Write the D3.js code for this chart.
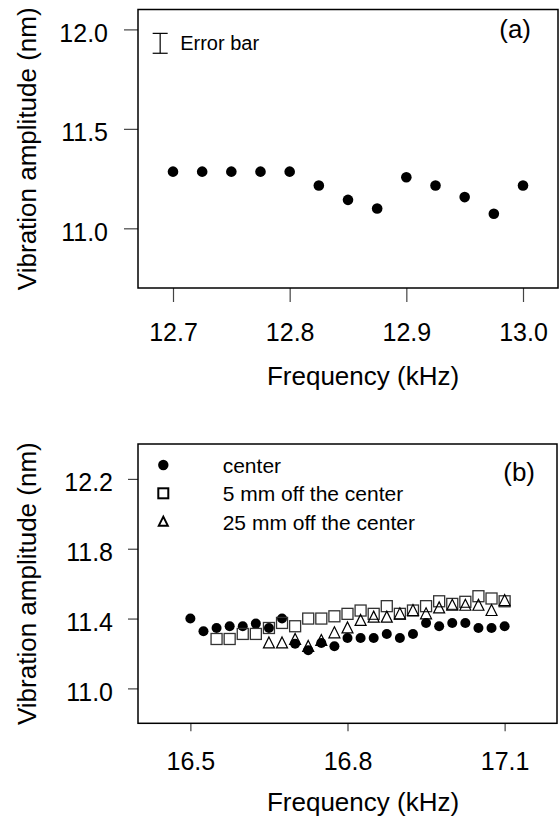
<!doctype html>
<html lang="en">
<head>
<meta charset="UTF-8">
<title>Vibration amplitude vs frequency</title>
<script src="https://d3js.org/d3.v7.min.js"></script>
<style>
  body { margin: 0; background: #fff; }
  svg { font-family: "Liberation Sans", Arial, sans-serif; }
</style>
</head>
<body>
<div id="chart"></div>
<script>
  // Panel (a) data
  const freqA = [12.7, 12.725, 12.75, 12.775, 12.8, 12.825, 12.85, 12.875, 12.9, 12.925, 12.95, 12.975, 13.0];
  const ampA = [11.285, 11.285, 11.285, 11.285, 11.285, 11.215, 11.143, 11.10, 11.257, 11.215, 11.157, 11.073, 11.215];
  const ticksXA = [12.7, 12.8, 12.9, 13.0];
  const ticksYA = [11.0, 11.5, 12.0];
  // error bar sample: frequency position, low and high amplitude
  const errorBar = { x: 12.689, lo: 11.88, hi: 11.98 };

  // Panel (b) data
  const freqB = [16.5, 16.525, 16.55, 16.575, 16.6, 16.625, 16.65, 16.675, 16.7, 16.725, 16.75, 16.775, 16.8,
                 16.825, 16.85, 16.875, 16.9, 16.925, 16.95, 16.975, 17.0, 17.025, 17.05, 17.075, 17.1];
  const centerB = [11.40, 11.327, 11.346, 11.356, 11.356, 11.371, 11.346, 11.40, 11.256, 11.218, 11.26, 11.241, 11.289,
                   11.289, 11.289, 11.312, 11.289, 11.312, 11.375, 11.356, 11.375, 11.375, 11.346, 11.346, 11.356];
  const off5B = [null, null, 11.283, 11.283, 11.312, 11.312, 11.346, 11.375, 11.356, 11.40, 11.40, 11.413, 11.427,
                 11.446, 11.427, 11.471, 11.427, 11.446, 11.471, 11.499, 11.484, 11.496, 11.528, 11.515, 11.499];
  const off25B = [null, null, null, null, null, null, 11.26, 11.26, 11.28, 11.24, 11.274, 11.318, 11.346,
                  11.389, 11.408, 11.408, 11.427, 11.446, 11.427, 11.461, 11.476, 11.476, 11.476, 11.446, 11.503];
  const ticksXB = [16.5, 16.8, 17.1];
  const ticksYB = [11.0, 11.4, 11.8, 12.2];
  const legendLabels = ['center', '5 mm off the center', '25 mm off the center'];

  const width = 560, height = 819;
  const svg = d3.select('#chart').append('svg')
    .attr('width', width)
    .attr('height', height);

  function panel(opts) {
    const g = svg.append('g');
    const x = d3.scaleLinear().domain(opts.xDomain).range([opts.left, opts.right]);
    const y = d3.scaleLinear().domain(opts.yDomain).range([opts.bottom, opts.top]);

    const xAxis = d3.axisBottom(x)
      .tickValues(opts.xTicks)
      .tickFormat(d3.format('.1f'))
      .tickSize(opts.xTickLen)
      .tickPadding(21);
    const gx = g.append('g')
      .attr('transform', `translate(0,${opts.bottom})`)
      .call(xAxis);

    const yAxis = d3.axisLeft(y)
      .tickValues(opts.yTicks)
      .tickFormat(d3.format('.1f'))
      .tickSize(opts.yTickLen)
      .tickPadding(opts.yPad);
    const gy = g.append('g')
      .attr('transform', `translate(${opts.left},0)`)
      .call(yAxis);

    [gx, gy].forEach(a => {
      a.select('.domain').remove();
      a.selectAll('line').attr('stroke', '#444').attr('stroke-width', 1.2);
      a.selectAll('text').attr('fill', '#000').style('font-size', '25px');
    });
    gy.selectAll('text').attr('dy', '0.48em');

    g.append('rect')
      .attr('x', opts.left)
      .attr('y', opts.top)
      .attr('width', opts.right - opts.left)
      .attr('height', opts.bottom - opts.top)
      .attr('fill', 'none')
      .attr('stroke', '#000')
      .attr('stroke-width', 1.5);

    g.append('text')
      .attr('x', 363)
      .attr('y', opts.xTitleY)
      .attr('text-anchor', 'middle')
      .style('font-size', '26px')
      .text('Frequency (kHz)');

    g.append('text')
      .attr('transform', `translate(36,${(opts.top + opts.bottom) / 2}) rotate(-90)`)
      .attr('text-anchor', 'middle')
      .style('font-size', '26px')
      .text('Vibration amplitude (nm)');

    g.append('text')
      .attr('x', opts.tagX)
      .attr('y', opts.tagY)
      .attr('text-anchor', 'end')
      .style('font-size', '26px')
      .text(opts.tag);

    return { g, x, y };
  }

  // ---- Panel (a)
  const pa = panel({
    left: 138, right: 558, top: 9.5, bottom: 288,
    xDomain: [12.67, 13.03], yDomain: [10.7, 12.1],
    xTicks: ticksXA, yTicks: ticksYA,
    xTickLen: 14, yTickLen: 14, yPad: 16,
    xTitleY: 385, tag: '(a)', tagX: 531, tagY: 38
  });

  pa.g.selectAll('circle.pt')
    .data(freqA)
    .join('circle')
    .attr('class', 'pt')
    .attr('cx', d => pa.x(d))
    .attr('cy', (d, i) => pa.y(ampA[i]))
    .attr('r', 5.3)
    .attr('fill', '#000');

  const ex = pa.x(errorBar.x);
  pa.g.append('line')
    .attr('x1', ex).attr('x2', ex)
    .attr('y1', pa.y(errorBar.lo)).attr('y2', pa.y(errorBar.hi))
    .attr('stroke', '#000').attr('stroke-width', 1.2);
  [errorBar.lo, errorBar.hi].forEach(v => {
    pa.g.append('line')
      .attr('x1', ex - 7.5).attr('x2', ex + 7.5)
      .attr('y1', pa.y(v)).attr('y2', pa.y(v))
      .attr('stroke', '#000').attr('stroke-width', 1.2);
  });
  pa.g.append('text')
    .attr('x', ex + 20)
    .attr('y', pa.y(errorBar.lo) - 3)
    .style('font-size', '20px')
    .text('Error bar');

  // ---- Panel (b)
  const pb = panel({
    left: 138, right: 557, top: 444, bottom: 723.3,
    xDomain: [16.4, 17.2], yDomain: [10.8, 12.4],
    xTicks: ticksXB, yTicks: ticksYB,
    xTickLen: 8, yTickLen: 10, yPad: 15,
    xTitleY: 811, tag: '(b)', tagX: 535, tagY: 481
  });

  const tri = s => `M0,${-s * 0.55} L${s / 2},${s * 0.45} L${-s / 2},${s * 0.45} Z`;

  pb.g.selectAll('circle.c')
    .data(freqB.map((f, i) => [f, centerB[i]]))
    .join('circle')
    .attr('class', 'c')
    .attr('cx', d => pb.x(d[0]))
    .attr('cy', d => pb.y(d[1]))
    .attr('r', 5)
    .attr('fill', '#000');

  pb.g.selectAll('rect.s')
    .data(freqB.map((f, i) => [f, off5B[i]]).filter(d => d[1] !== null))
    .join('rect')
    .attr('class', 's')
    .attr('x', d => pb.x(d[0]) - 5.5)
    .attr('y', d => pb.y(d[1]) - 5.5)
    .attr('width', 11)
    .attr('height', 11)
    .attr('fill', 'none')
    .attr('stroke', '#333')
    .attr('stroke-width', 1.3);

  pb.g.selectAll('path.t')
    .data(freqB.map((f, i) => [f, off25B[i]]).filter(d => d[1] !== null))
    .join('path')
    .attr('class', 't')
    .attr('transform', d => `translate(${pb.x(d[0])},${pb.y(d[1])})`)
    .attr('d', tri(11))
    .attr('fill', 'none')
    .attr('stroke', '#000')
    .attr('stroke-width', 1.2);

  // legend
  const leg = pb.g.append('g').attr('transform', 'translate(163.3,465)');
  legendLabels.forEach((lab, i) => {
    const row = leg.append('g').attr('transform', `translate(0,${i * 28.3})`);
    if (i === 0) {
      row.append('circle').attr('r', 5.2).attr('fill', '#000');
    } else if (i === 1) {
      row.append('rect').attr('x', -5).attr('y', -5).attr('width', 10).attr('height', 10)
        .attr('fill', 'none').attr('stroke', '#000').attr('stroke-width', 2);
    } else {
      row.append('path').attr('d', tri(9)).attr('fill', 'none')
        .attr('stroke', '#000').attr('stroke-width', 2);
    }
    row.append('text')
      .attr('x', 59.4)
      .attr('y', 8)
      .style('font-size', '21px')
      .text(lab);
  });
</script>
</body>
</html>
